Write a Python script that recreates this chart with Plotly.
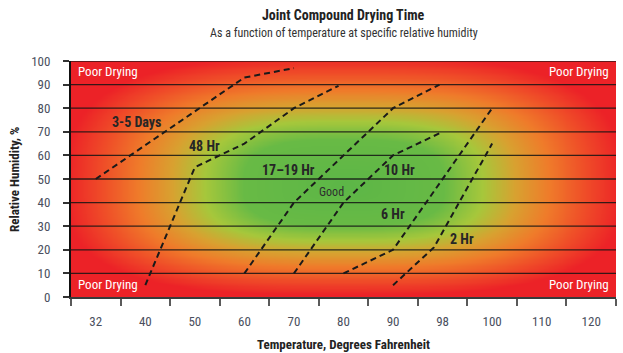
import numpy as np
import plotly.graph_objects as go

# ---------------- data ----------------
temp_ticks = [32, 40, 50, 60, 70, 80, 90, 98, 100, 110, 120]
tick_labels = [str(t) for t in temp_ticks]
rh_ticks = [0, 10, 20, 30, 40, 50, 60, 70, 80, 90, 100]

# drying-time boundary lines: temperature (°F) and relative humidity (%)
days_3_5_t = [32, 60, 70]
days_3_5_rh = [50, 93, 97]
hr48_t = [40, 50, 60, 70, 79]
hr48_rh = [5, 55, 65, 80, 89.5]
hr17_19_t = [60, 70, 90, 97.5]
hr17_19_rh = [10, 40, 80, 90]
hr10_t = [70, 80, 85, 90, 98]
hr10_rh = [10, 40, 50, 60, 70]
hr6_t = [80, 90, 100]
hr6_rh = [10, 20, 80]
hr2_t = [90, 96.6, 100]
hr2_rh = [5, 21, 65]

series = [
    (days_3_5_t, days_3_5_rh),
    (hr48_t, hr48_rh),
    (hr17_19_t, hr17_19_rh),
    (hr10_t, hr10_rh),
    (hr6_t, hr6_rh),
    (hr2_t, hr2_rh),
]

zone_labels = ["3-5 Days", "48 Hr", "17\u201319 Hr", "10 Hr", "6 Hr", "2 Hr"]
zone_label_pos = [(0.83, 74.2), (2.2, 64), (3.88, 53.8), (6.14, 53.8), (6.0, 35.2), (7.39, 24.6)]

# ---------------- helpers ----------------
tick_idx = np.arange(len(temp_ticks), dtype=float)


def to_pos(temps):
    return np.interp(np.asarray(temps, dtype=float), temp_ticks, tick_idx)


FONT = "Liberation Sans Narrow, Roboto Condensed, Arial Narrow, Liberation Sans, sans-serif"

fig = go.Figure()

# background gradient (styling)
gx = np.linspace(-0.5, 10.5, 221)
gy = np.linspace(0, 100, 201)
X, Y = np.meshgrid(gx, gy)
cx, ax = 5.0, 5.6
cy = 47.0
ay = np.where(Y >= cy, 55.0, 46.0)
p = 3.0
d = (np.abs((X - cx) / ax) ** p + np.abs((Y - cy) / ay) ** p) ** (1 / p)
d = np.clip(d, 0, 1)
colorscale = [
    [0.0, "#5cb647"],
    [0.36, "#68ba45"],
    [0.5, "#a6c73b"],
    [0.62, "#d8a130"],
    [0.74, "#ef7b2a"],
    [0.87, "#ef4d28"],
    [1.0, "#ec2227"],
]
fig.add_trace(go.Heatmap(x=gx, y=gy, z=d, colorscale=colorscale, zmin=0, zmax=1,
                         zsmooth="best", showscale=False, hoverinfo="skip"))

# horizontal grid lines (drawn above the gradient)
grid_x, grid_y = [], []
for v in rh_ticks[1:]:
    grid_x += [-0.5, 10.5, None]
    grid_y += [v, v, None]
fig.add_trace(go.Scatter(x=grid_x, y=grid_y, mode="lines",
                         line=dict(color="rgba(20,20,20,0.85)", width=1.3),
                         hoverinfo="skip", showlegend=False))

# dashed boundary lines
for t, rh in series:
    fig.add_trace(go.Scatter(x=to_pos(t), y=rh, mode="lines",
                             line=dict(color="#1a1a1a", width=2, dash="6px,4px"),
                             showlegend=False, hoverinfo="skip"))

annotations = []
for txt, (px, py) in zip(zone_labels, zone_label_pos):
    annotations.append(dict(x=px, y=py, xref="x", yref="y", text=f"<b>{txt}</b>",
                            showarrow=False, font=dict(family=FONT, size=14, color="#262626")))
annotations.append(dict(x=4.75, y=44.5, xref="x", yref="y", text="Good", showarrow=False,
                        font=dict(family=FONT, size=12, color="#2e2e2e")))

# Poor drying corner labels
for xa, ya, anchor in [(0.01, 0.955, "left"), (0.99, 0.955, "right"),
                       (0.01, 0.055, "left"), (0.99, 0.055, "right")]:
    annotations.append(dict(x=xa, y=ya, xref="paper", yref="paper", text="Poor Drying",
                            showarrow=False, xanchor=anchor, yanchor="middle",
                            font=dict(family=FONT, size=13, color="white")))

# titles
annotations.append(dict(x=0.5, y=1.195, xref="paper", yref="paper",
                        text="<b>Joint Compound Drying Time</b>", showarrow=False,
                        yanchor="middle", font=dict(family=FONT, size=14, color="#222")))
annotations.append(dict(x=0.5, y=1.119, xref="paper", yref="paper",
                        text="As a function of temperature at specific relative humidity",
                        showarrow=False, yanchor="middle",
                        font=dict(family=FONT, size=12, color="#333")))
annotations.append(dict(x=0.5, y=-0.203, xref="paper", yref="paper",
                        text="<b>Temperature, Degrees Fahrenheit</b>", showarrow=False,
                        yanchor="middle", font=dict(family=FONT, size=13, color="#222")))
annotations.append(dict(x=-0.1046, y=0.5, xref="paper", yref="paper",
                        text="<b>Relative Humidity, %</b>", showarrow=False, textangle=-90,
                        xanchor="center", yanchor="middle",
                        font=dict(family=FONT, size=13, color="#222")))

fig.update_layout(
    width=623, height=353,
    margin=dict(l=71, r=7, t=61, b=56),
    paper_bgcolor="white", plot_bgcolor="white",
    showlegend=False,
    annotations=annotations,
    font=dict(family=FONT),
)

fig.update_xaxes(
    range=[-0.5, 10.5], tickmode="array", tickvals=tick_idx, ticktext=tick_labels,
    ticks="", ticklabelstandoff=11, showgrid=False, zeroline=False,
    showline=True, linecolor="#3a3a3a", linewidth=2,
    tickfont=dict(family=FONT, size=13, color="#4a4f5e"),
    minor=dict(tickmode="array", tickvals=list(np.arange(-0.5, 10.6, 1.0)),
               ticks="outside", ticklen=7, tickwidth=1.5, tickcolor="#5a5a5a", showgrid=False),
    fixedrange=True,
)
fig.update_yaxes(
    range=[0, 100], tickmode="array", tickvals=rh_ticks,
    ticks="outside", ticklen=6, tickwidth=1.5, tickcolor="#333",
    ticklabelstandoff=10, showgrid=False, zeroline=False,
    showline=True, linecolor="#111", linewidth=2,
    tickfont=dict(family=FONT, size=13, color="#4a4f5e"),
    fixedrange=True,
)

fig.write_html("out.html")
